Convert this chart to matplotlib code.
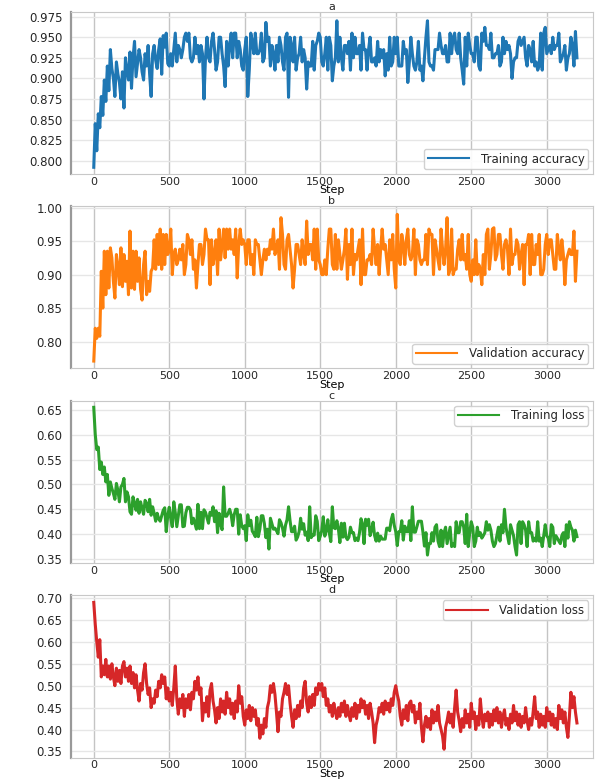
import matplotlib
matplotlib.use('Agg')
import matplotlib.pyplot as plt
from matplotlib.ticker import MultipleLocator

## step axis (one logged value every 10 steps)
steps = list(range(0, 3201, 10))

## training accuracy (a), one row = 100 steps
train_acc = [0.792, 0.845, 0.812, 0.857, 0.840, 0.878, 0.855, 0.898, 0.872, 0.915,
             0.885, 0.935, 0.912, 0.900, 0.878, 0.920, 0.905, 0.895, 0.875, 0.908,
             0.864, 0.925, 0.910, 0.898, 0.932, 0.888, 0.925, 0.945, 0.902, 0.918,
             0.935, 0.925, 0.908, 0.898, 0.930, 0.915, 0.940, 0.905, 0.878, 0.930,
             0.940, 0.922, 0.912, 0.935, 0.948, 0.905, 0.952, 0.938, 0.955, 0.918,
             0.915, 0.930, 0.915, 0.935, 0.955, 0.920, 0.940, 0.935, 0.925, 0.935,
             0.950, 0.955, 0.945, 0.955, 0.925, 0.920, 0.925, 0.950, 0.930, 0.940,
             0.920, 0.940, 0.930, 0.875, 0.925, 0.950, 0.925, 0.920, 0.945, 0.955,
             0.935, 0.910, 0.920, 0.950, 0.950, 0.930, 0.915, 0.890, 0.945, 0.915,
             0.940, 0.955, 0.925, 0.955, 0.955, 0.925, 0.945, 0.935, 0.915, 0.910,
             0.935, 0.950, 0.878, 0.910, 0.955, 0.945, 0.930, 0.955, 0.930, 0.930,
             0.935, 0.955, 0.920, 0.925, 0.968, 0.945, 0.950, 0.915, 0.940, 0.930,
             0.910, 0.940, 0.920, 0.950, 0.940, 0.920, 0.910, 0.950, 0.955, 0.877,
             0.950, 0.940, 0.920, 0.950, 0.910, 0.925, 0.930, 0.950, 0.920, 0.935,
             0.925, 0.887, 0.920, 0.915, 0.915, 0.945, 0.910, 0.940, 0.945, 0.955,
             0.950, 0.920, 0.915, 0.930, 0.950, 0.910, 0.950, 0.940, 0.897, 0.915,
             0.925, 0.970, 0.920, 0.950, 0.925, 0.910, 0.940, 0.940, 0.930, 0.945,
             0.910, 0.955, 0.925, 0.950, 0.930, 0.930, 0.940, 0.910, 0.955, 0.935,
             0.935, 0.910, 0.935, 0.950, 0.920, 0.920, 0.925, 0.915, 0.945, 0.920,
             0.935, 0.925, 0.935, 0.903, 0.930, 0.910, 0.950, 0.915, 0.920, 0.950,
             0.930, 0.950, 0.915, 0.915, 0.915, 0.945, 0.930, 0.935, 0.895, 0.920,
             0.950, 0.930, 0.915, 0.910, 0.920, 0.945, 0.910, 0.915, 0.897, 0.925,
             0.950, 0.970, 0.920, 0.915, 0.915, 0.910, 0.935, 0.935, 0.935, 0.955,
             0.940, 0.930, 0.930, 0.940, 0.920, 0.920, 0.955, 0.930, 0.950, 0.955,
             0.935, 0.930, 0.955, 0.925, 0.910, 0.893, 0.950, 0.915, 0.955, 0.940,
             0.930, 0.930, 0.920, 0.950, 0.950, 0.915, 0.910, 0.955, 0.945, 0.962,
             0.940, 0.940, 0.935, 0.955, 0.925, 0.925, 0.930, 0.930, 0.940, 0.915,
             0.920, 0.950, 0.930, 0.945, 0.935, 0.940, 0.930, 0.900, 0.920, 0.925,
             0.925, 0.945, 0.950, 0.940, 0.945, 0.950, 0.925, 0.915, 0.940, 0.935,
             0.920, 0.945, 0.915, 0.920, 0.910, 0.915, 0.955, 0.910, 0.955, 0.962,
             0.930, 0.935, 0.940, 0.930, 0.950, 0.935, 0.940, 0.940, 0.955, 0.920,
             0.925, 0.930, 0.940, 0.910, 0.925, 0.930, 0.950, 0.940, 0.915, 0.957,
             0.925]

## validation accuracy (b)
val_acc = [0.771, 0.820, 0.805, 0.820, 0.808, 0.905, 0.850, 0.935, 0.870, 0.935,
           0.880, 0.940, 0.925, 0.890, 0.865, 0.930, 0.912, 0.885, 0.940, 0.882,
           0.930, 0.890, 0.920, 0.870, 0.965, 0.880, 0.935, 0.878, 0.935, 0.890,
           0.925, 0.878, 0.862, 0.915, 0.935, 0.870, 0.890, 0.875, 0.905, 0.910,
           0.952, 0.908, 0.960, 0.915, 0.968, 0.908, 0.960, 0.915, 0.960, 0.930,
           0.938, 0.968, 0.900, 0.930, 0.938, 0.915, 0.922, 0.938, 0.922, 0.945,
           0.900, 0.915, 0.960, 0.952, 0.930, 0.952, 0.908, 0.922, 0.880, 0.915,
           0.945, 0.945, 0.915, 0.930, 0.968, 0.952, 0.952, 0.885, 0.952, 0.915,
           0.930, 0.952, 0.900, 0.968, 0.922, 0.945, 0.968, 0.925, 0.968, 0.938,
           0.968, 0.938, 0.952, 0.930, 0.968, 0.895, 0.945, 0.968, 0.945, 0.952,
           0.945, 0.915, 0.952, 0.952, 0.915, 0.930, 0.900, 0.952, 0.945, 0.945,
           0.922, 0.900, 0.922, 0.938, 0.922, 0.938, 0.930, 0.952, 0.938, 0.968,
           0.930, 0.938, 0.952, 0.908, 0.985, 0.960, 0.915, 0.908, 0.952, 0.960,
           0.938, 0.915, 0.880, 0.908, 0.945, 0.945, 0.930, 0.915, 0.952, 0.930,
           0.915, 0.980, 0.930, 0.945, 0.945, 0.922, 0.968, 0.908, 0.968, 0.922,
           0.915, 0.900, 0.900, 0.922, 0.900, 0.938, 0.968, 0.968, 0.915, 0.908,
           0.960, 0.908, 0.952, 0.930, 0.908, 0.922, 0.938, 0.968, 0.893, 0.945,
           0.915, 0.968, 0.900, 0.930, 0.922, 0.938, 0.952, 0.885, 0.968, 0.900,
           0.900, 0.922, 0.922, 0.930, 0.915, 0.968, 0.938, 0.915, 0.945, 0.900,
           0.938, 0.968, 0.938, 0.945, 0.922, 0.900, 0.952, 0.922, 0.960, 0.908,
           0.880, 0.990, 0.922, 0.915, 0.960, 0.945, 0.915, 0.952, 0.968, 0.930,
           0.922, 0.930, 0.968, 0.900, 0.952, 0.945, 0.922, 0.915, 0.922, 0.922,
           0.960, 0.915, 0.968, 0.960, 0.960, 0.900, 0.952, 0.938, 0.922, 0.908,
           0.968, 0.938, 0.915, 0.938, 0.985, 0.900, 0.908, 0.968, 0.900, 0.908,
           0.908, 0.938, 0.952, 0.922, 0.960, 0.922, 0.930, 0.908, 0.960, 0.900,
           0.890, 0.922, 0.900, 0.952, 0.900, 0.915, 0.908, 0.885, 0.930, 0.900,
           0.960, 0.968, 0.908, 0.930, 0.968, 0.970, 0.922, 0.930, 0.960, 0.960,
           0.930, 0.908, 0.945, 0.952, 0.938, 0.900, 0.968, 0.915, 0.930, 0.930,
           0.952, 0.945, 0.908, 0.930, 0.945, 0.885, 0.945, 0.945, 0.960, 0.900,
           0.960, 0.915, 0.915, 0.945, 0.930, 0.960, 0.900, 0.900, 0.908, 0.945,
           0.960, 0.930, 0.952, 0.952, 0.930, 0.908, 0.908, 0.960, 0.938, 0.922,
           0.952, 0.930, 0.885, 0.922, 0.930, 0.938, 0.930, 0.930, 0.965, 0.890,
           0.935]

## training loss (c)
train_loss = [0.655, 0.600, 0.570, 0.575, 0.530, 0.545, 0.520, 0.535, 0.505, 0.520,
              0.478, 0.505, 0.492, 0.482, 0.470, 0.502, 0.488, 0.465, 0.495, 0.500,
              0.512, 0.465, 0.485, 0.475, 0.445, 0.440, 0.475, 0.462, 0.448, 0.470,
              0.442, 0.465, 0.452, 0.440, 0.468, 0.462, 0.445, 0.470, 0.438, 0.455,
              0.442, 0.426, 0.442, 0.431, 0.426, 0.437, 0.448, 0.453, 0.405, 0.437,
              0.454, 0.432, 0.415, 0.465, 0.443, 0.415, 0.437, 0.459, 0.459, 0.415,
              0.416, 0.443, 0.454, 0.454, 0.449, 0.421, 0.432, 0.421, 0.410, 0.460,
              0.411, 0.444, 0.411, 0.449, 0.444, 0.433, 0.422, 0.444, 0.438, 0.455,
              0.425, 0.447, 0.403, 0.442, 0.420, 0.409, 0.495, 0.436, 0.436, 0.442,
              0.450, 0.439, 0.417, 0.439, 0.450, 0.450, 0.400, 0.439, 0.417, 0.411,
              0.417, 0.387, 0.439, 0.417, 0.428, 0.406, 0.401, 0.395, 0.434, 0.395,
              0.410, 0.437, 0.437, 0.421, 0.393, 0.410, 0.370, 0.432, 0.421, 0.410,
              0.412, 0.407, 0.401, 0.429, 0.423, 0.412, 0.396, 0.418, 0.429, 0.455,
              0.427, 0.405, 0.405, 0.416, 0.388, 0.394, 0.405, 0.432, 0.410, 0.421,
              0.398, 0.404, 0.387, 0.455, 0.393, 0.398, 0.398, 0.437, 0.426, 0.387,
              0.396, 0.407, 0.435, 0.396, 0.407, 0.429, 0.402, 0.385, 0.455, 0.413,
              0.411, 0.427, 0.411, 0.383, 0.422, 0.394, 0.422, 0.394, 0.389, 0.394,
              0.414, 0.403, 0.403, 0.387, 0.392, 0.387, 0.403, 0.431, 0.420, 0.381,
              0.430, 0.418, 0.430, 0.397, 0.408, 0.424, 0.397, 0.386, 0.402, 0.386,
              0.396, 0.390, 0.390, 0.390, 0.412, 0.412, 0.407, 0.429, 0.440, 0.418,
              0.405, 0.377, 0.405, 0.405, 0.427, 0.388, 0.416, 0.405, 0.405, 0.427,
              0.387, 0.455, 0.404, 0.404, 0.415, 0.426, 0.426, 0.426, 0.404, 0.376,
              0.403, 0.358, 0.381, 0.381, 0.403, 0.386, 0.414, 0.419, 0.386, 0.375,
              0.408, 0.375, 0.403, 0.414, 0.381, 0.397, 0.414, 0.375, 0.381, 0.375,
              0.425, 0.403, 0.403, 0.425, 0.425, 0.414, 0.381, 0.440, 0.375, 0.403,
              0.425, 0.414, 0.375, 0.386, 0.414, 0.397, 0.403, 0.392, 0.397, 0.403,
              0.425, 0.408, 0.419, 0.408, 0.386, 0.375, 0.381, 0.397, 0.414, 0.386,
              0.419, 0.403, 0.450, 0.414, 0.397, 0.381, 0.419, 0.408, 0.397, 0.375,
              0.358, 0.419, 0.425, 0.381, 0.425, 0.419, 0.408, 0.375, 0.425, 0.403,
              0.403, 0.386, 0.392, 0.386, 0.425, 0.386, 0.392, 0.375, 0.397, 0.419,
              0.397, 0.392, 0.375, 0.419, 0.414, 0.381, 0.397, 0.392, 0.386, 0.381,
              0.397, 0.403, 0.375, 0.419, 0.392, 0.425, 0.414, 0.408, 0.386, 0.408,
              0.395]

## validation loss (d)
val_loss = [0.690, 0.640, 0.600, 0.565, 0.605, 0.520, 0.545, 0.525, 0.560, 0.520,
            0.545, 0.515, 0.550, 0.520, 0.500, 0.540, 0.510, 0.535, 0.505, 0.545,
            0.555, 0.520, 0.540, 0.510, 0.545, 0.505, 0.530, 0.495, 0.525, 0.490,
            0.465, 0.505, 0.490, 0.530, 0.550, 0.505, 0.480, 0.495, 0.450, 0.470,
            0.460, 0.490, 0.475, 0.510, 0.495, 0.525, 0.505, 0.520, 0.470, 0.495,
            0.465, 0.485, 0.455, 0.495, 0.545, 0.470, 0.435, 0.470, 0.450, 0.480,
            0.430, 0.470, 0.450, 0.480, 0.445, 0.485, 0.470, 0.510, 0.490, 0.520,
            0.480, 0.495, 0.420, 0.460, 0.440, 0.475, 0.430, 0.490, 0.505, 0.465,
            0.445, 0.415, 0.450, 0.425, 0.470, 0.440, 0.465, 0.435, 0.485, 0.450,
            0.470, 0.435, 0.460, 0.425, 0.465, 0.440, 0.500, 0.460, 0.475, 0.430,
            0.410, 0.445, 0.425, 0.455, 0.420, 0.450, 0.430, 0.445, 0.410, 0.425,
            0.380, 0.410, 0.390, 0.425, 0.405, 0.450, 0.465, 0.500, 0.485, 0.505,
            0.480, 0.440, 0.395, 0.440, 0.430, 0.470, 0.485, 0.505, 0.480, 0.500,
            0.460, 0.430, 0.405, 0.445, 0.425, 0.455, 0.430, 0.465, 0.450, 0.495,
            0.510, 0.460, 0.440, 0.475, 0.450, 0.480, 0.455, 0.495, 0.480, 0.505,
            0.490, 0.505, 0.475, 0.495, 0.455, 0.470, 0.440, 0.455, 0.430, 0.460,
            0.440, 0.425, 0.450, 0.430, 0.460, 0.440, 0.465, 0.430, 0.455, 0.435,
            0.420, 0.450, 0.430, 0.460, 0.425, 0.455, 0.440, 0.470, 0.450, 0.465,
            0.435, 0.455, 0.425, 0.460, 0.440, 0.415, 0.370, 0.410, 0.425, 0.450,
            0.440, 0.460, 0.435, 0.465, 0.445, 0.460, 0.440, 0.470, 0.455, 0.485,
            0.500, 0.480, 0.465, 0.430, 0.410, 0.445, 0.425, 0.455, 0.420, 0.460,
            0.465, 0.440, 0.455, 0.415, 0.440, 0.425, 0.460, 0.405, 0.372, 0.410,
            0.430, 0.405, 0.425, 0.400, 0.445, 0.415, 0.440, 0.420, 0.455, 0.415,
            0.400, 0.385, 0.355, 0.405, 0.420, 0.440, 0.415, 0.435, 0.405, 0.450,
            0.490, 0.440, 0.420, 0.395, 0.425, 0.405, 0.445, 0.415, 0.435, 0.405,
            0.460, 0.425, 0.440, 0.400, 0.430, 0.410, 0.470, 0.430, 0.405, 0.435,
            0.420, 0.440, 0.405, 0.435, 0.410, 0.445, 0.420, 0.450, 0.415, 0.440,
            0.405, 0.430, 0.445, 0.410, 0.425, 0.400, 0.435, 0.415, 0.455, 0.420,
            0.440, 0.410, 0.435, 0.405, 0.430, 0.415, 0.450, 0.420, 0.400, 0.425,
            0.410, 0.440, 0.475, 0.425, 0.440, 0.405, 0.435, 0.410, 0.430, 0.405,
            0.450, 0.420, 0.440, 0.410, 0.435, 0.405, 0.425, 0.400, 0.455, 0.425,
            0.445, 0.415, 0.440, 0.405, 0.382, 0.430, 0.485, 0.450, 0.475, 0.440,
            0.415]

series = [train_acc, val_acc, train_loss, val_loss]
labels = ['Training accuracy', 'Validation accuracy', 'Training loss', 'Validation loss']
titles = ['a', 'b', 'c', 'd']
colors = ['#1f77b4', '#ff7f0e', '#2ca02c', '#d62728']
legend_loc = ['lower right', 'lower right', 'upper right', 'upper right']
ylims = [(0.784, 0.981), (0.760, 1.002), (0.342, 0.668), (0.336, 0.706)]
ysteps = [0.025, 0.05, 0.05, 0.05]

plt.rcParams['font.family'] = 'DejaVu Sans'
plt.rcParams['text.color'] = '#262626'
plt.rcParams['xtick.color'] = '#262626'
plt.rcParams['ytick.color'] = '#262626'

fig, axes = plt.subplots(4, 1, figsize=(6, 7.81), dpi=100)
fig.subplots_adjust(left=0.118, right=0.988, top=0.985, bottom=0.03, hspace=0.2)

for i, ax in enumerate(axes):
    vals = series[i]
    ax.plot(steps[:len(vals)], vals, color=colors[i], lw=2.2, label=labels[i])
    ax.set_xlim(-152, 3305)
    ax.set_ylim(*ylims[i])
    ax.xaxis.set_major_locator(MultipleLocator(500))
    ax.yaxis.set_major_locator(MultipleLocator(ysteps[i]))
    ax.set_axisbelow(True)
    ax.xaxis.grid(True, color='#c4c4c4', lw=1.0)
    ax.yaxis.grid(True, color='#e6e6e6', lw=1.0)
    ax.tick_params(axis='x', length=0, labelsize=8, pad=2)
    ax.tick_params(axis='y', length=0, labelsize=8.5, pad=6)
    for side in ['top', 'right', 'bottom']:
        ax.spines[side].set_color('#c8c8c8')
    ax.spines['left'].set_color('#999999')
    ax.spines['left'].set_linewidth(1.6)
    ax.set_title(titles[i], fontsize=8, pad=1)
    ax.set_xlabel('Step', fontsize=8, labelpad=-1)
    leg = ax.legend(loc=legend_loc[i], fontsize=8.5, handlelength=3.5,
                    handletextpad=1.0, borderpad=0.3, borderaxespad=0.4,
                    framealpha=0.9)
    for line in leg.get_lines():
        line.set_linewidth(1.5)

plt.savefig('out.png')
